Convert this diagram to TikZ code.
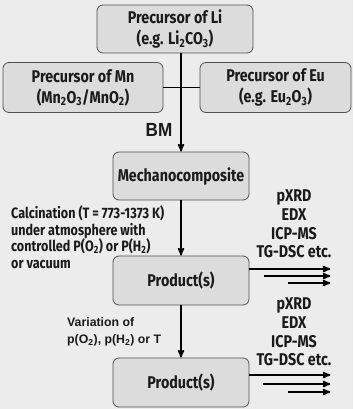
\documentclass[tikz,border=0pt]{standalone}
\usepackage{fontspec}
\setmainfont{Fira Sans}[FakeStretch=0.84]
\newfontfamily\arialfont{Liberation Sans}[FakeStretch=0.9]
\newfontfamily\plainarial{Liberation Sans}
\usetikzlibrary{shapes}
\usetikzlibrary{arrows}
\definecolor{bggray}{HTML}{ECECEC}
\definecolor{boxgray}{HTML}{DCDCDC}
\definecolor{edgegray}{HTML}{505050}
\definecolor{inkgray}{HTML}{1A1A1A}

\begin{document}
\begin{tikzpicture}[x=1pt,y=-1pt]
				\tikzstyle{every node}=[text=inkgray, font=\bfseries\fontsize{17}{18.6}\selectfont]
				\tikzstyle{stage}=[rectangle, rounded corners=6pt, draw=edgegray, fill=boxgray, line width=0.8pt, align=center, inner sep=0pt, font=\bfseries\fontsize{17}{21}\selectfont]
				\tikzstyle{flow}=[line width=1.6pt, black, >=stealth']
				\tikzstyle{note}=[align=left, inner sep=0pt, anchor=west]
				\tikzstyle{probes}=[align=center, inner sep=0pt]
				\fill[bggray] (0,0) rectangle (353,409);
				\useasboundingbox (0,0) rectangle (353,409);
				% precursors
				\node[stage, minimum width=156, minimum height=48] (li) at (175,29) {Precursor of Li\\(e.g. Li\textsubscript{2}CO\textsubscript{3})};
				\node[stage, minimum width=160, minimum height=50] (mn) at (83,87.5) {Precursor of Mn\\(Mn\textsubscript{2}O\textsubscript{3}/MnO\textsubscript{2})};
				\node[stage, minimum width=151, minimum height=50] (eu) at (275.5,87.5) {Precursor of Eu\\(e.g. Eu\textsubscript{2}O\textsubscript{3})};
				% products
				\node[stage, minimum width=136, minimum height=48] (mech) at (181,176) {Mechanocomposite};
				\node[stage, minimum width=136, minimum height=49] (prod1) at (181,280.5) {Product(s)};
				\node[stage, minimum width=136, minimum height=49] (prod2) at (181,382.5) {Product(s)};
				% labels
				\node[font=\arialfont\bfseries\fontsize{19}{20}\selectfont] (bm) at (159,130) {BM};
				\node[note, font=\bfseries\fontsize{15}{16.5}\selectfont] (calc) at (11,237) {Calcination (T = 773-1373 K)\\under atmosphere with\\controlled P(O\textsubscript{2}) or P(H\textsubscript{2})\\or vacuum};
				\node[note, font=\plainarial\bfseries\fontsize{12.3}{17}\selectfont] (vary) at (67,331.5) {Variation of\\p(O\textsubscript{2}), p(H\textsubscript{2}) or T};
				\node[probes] (probe1) at (294,224) {pXRD\\EDX\\ICP-MS\\TG-DSC etc.};
				\node[probes] (probe2) at (294,332) {pXRD\\EDX\\ICP-MS\\TG-DSC etc.};
				% connectors
				\draw[flow,->] (li.south -| mech.north) -- (mech.north);
				\draw[flow] (mn.east) -- (eu.west);
				\draw[flow,->] (mech) -- (prod1);
				\draw[flow,->] (prod1) -- (prod2);
				\foreach \dy/\dx in {11.5/0, 4.5/15, -2.5/39}
					\draw[flow,->] ([xshift=\dx pt, yshift=\dy pt]prod1.east) -- ([xshift=81pt, yshift=\dy pt]prod1.east);
				\foreach \dy/\dx in {7.5/0, -1.5/14, -9.5/39}
					\draw[flow,->] ([xshift=\dx pt, yshift=\dy pt]prod2.east) -- ([xshift=81pt, yshift=\dy pt]prod2.east);
\end{tikzpicture}
\end{document}
